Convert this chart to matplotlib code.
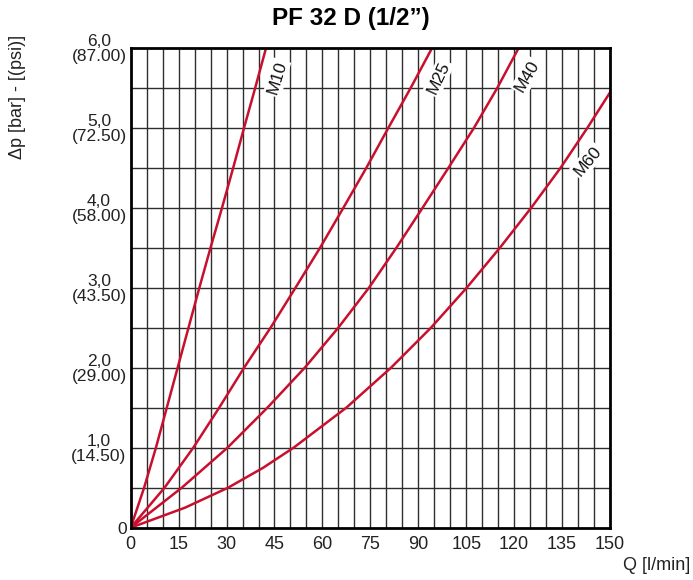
import numpy as np
import matplotlib
matplotlib.use("Agg")
import matplotlib.pyplot as plt

# Pressure drop steps (bar) and flow readings (l/min) for each element grade
p_steps = [0.0, 0.5, 1.0, 1.5, 2.0, 2.5, 3.0, 3.5, 4.0, 4.5, 5.0, 5.5, 6.0]
q_m10 = [0.0, 4.2, 7.9, 11.3, 14.7, 18.1, 21.5, 25.0, 28.6, 32.1, 35.5, 39.0, 42.4]
q_m25 = [0.0, 10.6, 19.6, 27.7, 35.5, 43.8, 51.6, 59.3, 66.6, 73.8, 80.7, 87.7, 94.4]
q_m40 = [0.0, 16.0, 30.3, 42.8, 54.5, 65.0, 74.6, 83.2, 91.4, 99.5, 107.5, 114.8, 121.5]
p_m60 = [0.0, 0.25, 0.5, 0.75, 1.0, 1.5, 2.0, 2.5, 3.0, 3.5, 4.0, 4.5, 5.0, 5.5]
q_m60 = [0.0, 17.0, 30.5, 41.5, 51.0, 67.5, 81.5, 94.0, 105.2, 115.6, 125.4, 134.6, 143.0, 151.0]

series_names = ["M10", "M25", "M40", "M60"]
label_q = [45.8, 96.3, 124.1, 143.0]
label_p = [5.62, 5.62, 5.64, 4.58]
label_rot = [73, 65, 60, 50]

x_ticks = list(range(0, 151, 15))
y_ticks = [0, 1, 2, 3, 4, 5, 6]
y_tick_labels = ["0", "1,0\n(14.50)", "2,0\n(29.00)", "3,0\n(43.50)",
                 "4,0\n(58.00)", "5,0\n(72.50)", "6,0\n(87.00)"]

narrow = ["Liberation Sans Narrow", "Liberation Sans", "DejaVu Sans"]
curve_color = "#c8102e"
text_color = "#222222"

fig = plt.figure(figsize=(6.93, 5.80), dpi=100)
ax = fig.add_axes([0.1886, 0.0902, 0.6916, 0.8279])
ax.set_xlim(0, 150)
ax.set_ylim(0, 6)

# grid: every 5 l/min and every 0.5 bar
for q in np.arange(5, 150, 5):
    ax.axvline(q, color="#2e2e2e", lw=1.0, zorder=1)
for p in np.arange(0.5, 6, 0.5):
    ax.axhline(p, color="#2e2e2e", lw=1.0, zorder=1)

for s in ax.spines.values():
    s.set_linewidth(2.0)
    s.set_color("black")
    s.set_zorder(5)

curves = [(q_m10, p_steps), (q_m25, p_steps), (q_m40, p_steps), (q_m60, p_m60)]
for (qs, ps) in curves:
    ax.plot(qs, ps, color=curve_color, lw=1.8, zorder=3, solid_capstyle="round",
            solid_joinstyle="round")

for name, lq, lp, rot in zip(series_names, label_q, label_p, label_rot):
    ax.text(lq, lp, name, rotation=rot, ha="center", va="center",
            fontsize=12.5, family=narrow, color="#111111", zorder=4,
            rotation_mode="anchor",
            bbox=dict(boxstyle="square,pad=0.1", fc="white", ec="none"))

ax.set_xticks(x_ticks)
ax.set_xticklabels([str(v) for v in x_ticks], family=narrow, fontsize=13, color=text_color)
ax.set_yticks(y_ticks)
ax.set_yticklabels(y_tick_labels, family=narrow, fontsize=12.5, color=text_color,
                   linespacing=1.0)
for lbl in ax.get_yticklabels():
    lbl.set_multialignment("center")
ax.tick_params(axis="both", length=0)
ax.tick_params(axis="x", pad=6)
ax.tick_params(axis="y", pad=3)

fig.text(690 / 693, 1 - 565 / 580, "Q [l/min]", ha="right", va="center",
         family=narrow, fontsize=13, color=text_color)
fig.text(18 / 693, 1 - 97 / 580, "\u0394p [bar] - [(psi)]", rotation=90,
         ha="center", va="center", family=narrow, fontsize=13, color=text_color)
fig.text(351 / 693, 1 - 18 / 580, "PF 32 D (1/2\u201d)", ha="center", va="center",
         family=narrow, fontsize=17.5, fontweight="bold", color="black")

fig.savefig("out.png", dpi=100, facecolor="white")
